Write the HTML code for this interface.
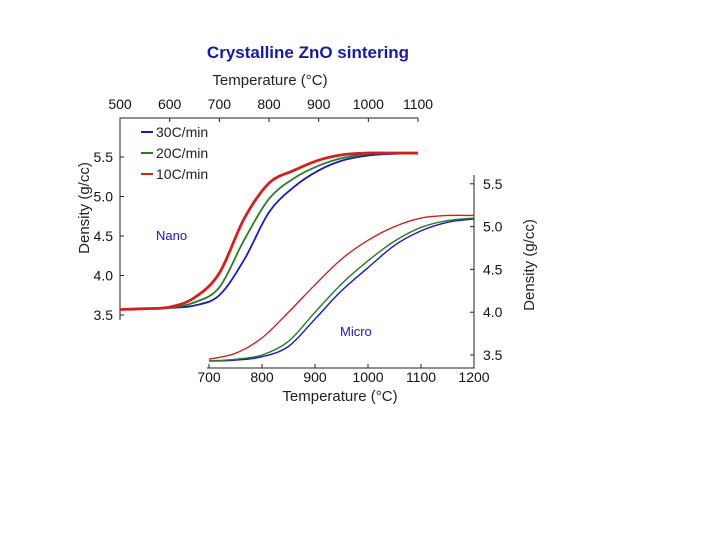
<!DOCTYPE html>
<html><head><meta charset="utf-8"><style>
body{margin:0;background:#fff;width:720px;height:540px;overflow:hidden}
text{font-family:"Liberation Sans",sans-serif}
</style></head><body>
<svg id="c" width="720" height="540">
<text x="308" y="58" text-anchor="middle" font-size="17" font-weight="bold" fill="#1a1aa0">Crystalline ZnO sintering</text>
<text x="270" y="85" text-anchor="middle" font-size="15" fill="#222">Temperature (°C)</text>
<text x="340" y="401" text-anchor="middle" font-size="15" fill="#222">Temperature (°C)</text>
<text transform="translate(89,208) rotate(-90)" text-anchor="middle" font-size="15" fill="#222">Density (g/cc)</text>
<text transform="translate(534,265) rotate(-90)" text-anchor="middle" font-size="15" fill="#222">Density (g/cc)</text>
<text x="156" y="240" font-size="13" fill="#1a1aa0">Nano</text>
<text x="340" y="336" font-size="13" fill="#1a1aa0">Micro</text>
<g id="legend"></g>
<g id="axes"></g><g id="plot"></g>
</svg>
<script>
const nanoTicksX=[500,600,700,800,900,1000,1100];
const nanoTicksY=[3.5,4.0,4.5,5.0,5.5];
const microTicksX=[700,800,900,1000,1100,1200];
const microTicksY=[3.5,4.0,4.5,5.0,5.5];
const nanoT=[500,550,600,650,700,750,800,850,900,950,1000,1050,1100];
const nanoRed=[3.57,3.58,3.6,3.72,4.03,4.72,5.17,5.33,5.46,5.53,5.55,5.55,5.55];
const nanoGreen=[3.57,3.58,3.59,3.66,3.85,4.45,4.97,5.23,5.39,5.49,5.54,5.55,5.55];
const nanoBlue=[3.57,3.58,3.59,3.62,3.75,4.2,4.8,5.12,5.33,5.46,5.52,5.54,5.55];
const microT=[700,750,800,850,900,950,1000,1050,1100,1150,1200];
const microRed=[3.45,3.52,3.7,4.0,4.32,4.62,4.84,5.0,5.1,5.13,5.13];
const microGreen=[3.43,3.45,3.5,3.66,4.0,4.33,4.6,4.83,4.99,5.07,5.1];
const microBlue=[3.43,3.44,3.48,3.6,3.92,4.25,4.52,4.78,4.95,5.05,5.09];
const seriesNames=["30C/min","20C/min","10C/min"];
const colors=["#1a1ab8","#2a7a2a","#d02020"];
const NS="http://www.w3.org/2000/svg";
const nx=t=>120+(t-500)*0.4967, ny=d=>315-(d-3.5)*79;
const mx=t=>209+(t-700)*0.53, my=d=>355-(d-3.5)*85.6;
function mk(tag,attrs,parent){const e=document.createElementNS(NS,tag);for(const k in attrs)e.setAttribute(k,attrs[k]);parent.appendChild(e);return e;}
const axes=document.getElementById('axes'),plot=document.getElementById('plot'),legend=document.getElementById('legend');
let a=mk('path',{d:`M120,320V118H418`,fill:'none',stroke:'#222','stroke-width':1},axes);


nanoTicksX.forEach(t=>{mk('line',{x1:nx(t),x2:nx(t),y1:118,y2:122,stroke:'#222'},axes);
 const e=mk('text',{x:nx(t),y:109,'text-anchor':'middle','font-size':14,fill:'#111'},axes);e.textContent=t;
 
 });
nanoTicksY.forEach(v=>{mk('line',{x1:120,x2:124,y1:ny(v),y2:ny(v),stroke:'#222'},axes);
 const e=mk('text',{x:113,y:ny(v)+5,'text-anchor':'end','font-size':14,fill:'#111'},axes);e.textContent=v.toFixed(1);
 
 });
a=mk('path',{d:`M207,368H474V175`,fill:'none',stroke:'#222','stroke-width':1},axes);


microTicksX.forEach(t=>{mk('line',{x1:mx(t),x2:mx(t),y1:364,y2:368,stroke:'#222'},axes);
 const e=mk('text',{x:mx(t),y:382,'text-anchor':'middle','font-size':14,fill:'#111'},axes);e.textContent=t;
 
 });
microTicksY.forEach(v=>{mk('line',{x1:470,x2:474,y1:my(v),y2:my(v),stroke:'#222'},axes);
 const e=mk('text',{x:483,y:my(v)+5,'font-size':14,fill:'#111'},axes);e.textContent=v.toFixed(1);
 
 });
function smooth(P){let d=`M${P[0][0]},${P[0][1]}`;for(let i=0;i<P.length-1;i++){const p0=P[i-1]||P[i],p1=P[i],p2=P[i+1],p3=P[i+2]||p2;
 d+=`C${p1[0]+(p2[0]-p0[0])/6},${p1[1]+(p2[1]-p0[1])/6} ${p2[0]-(p3[0]-p1[0])/6},${p2[1]-(p3[1]-p1[1])/6} ${p2[0]},${p2[1]}`;}return d;}
function line(T,V,fx,fy,col,w,name){const p=mk('path',{d:smooth(T.map((t,i)=>[fx(t),fy(V[i])])),fill:'none',stroke:col,'stroke-width':w},plot);
 
 }
line(nanoT,nanoBlue,nx,ny,colors[0],1.8,'nano-30c-line');
line(nanoT,nanoGreen,nx,ny,colors[1],1.8,'nano-20c-line');
line(nanoT,nanoRed,nx,ny,colors[2],2.8,'nano-10c-line');
line(microT,microBlue,mx,my,colors[0],1.4,'micro-30c-line');
line(microT,microGreen,mx,my,colors[1],1.4,'micro-20c-line');
line(microT,microRed,mx,my,colors[2],1.4,'micro-10c-line');
seriesNames.forEach((s,i)=>{const y=132+i*21;mk('line',{x1:141,x2:153,y1:y,y2:y,stroke:colors[i],'stroke-width':2},legend);
 const e=mk('text',{x:156,y:y+5,'font-size':14,fill:'#222'},legend);e.textContent=s;
 
 });
</script>
</body></html>
